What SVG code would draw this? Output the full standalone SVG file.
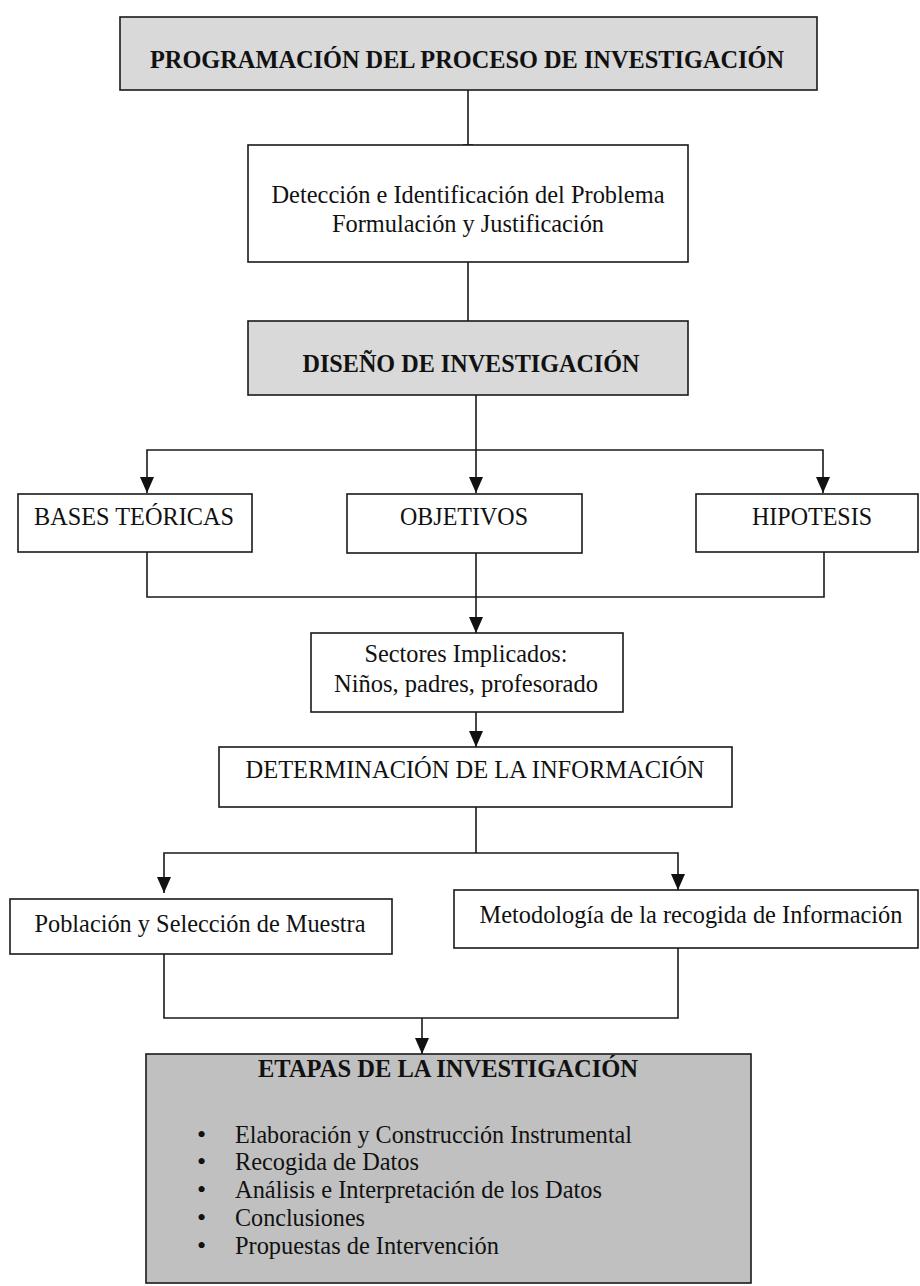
<svg xmlns="http://www.w3.org/2000/svg" width="920" height="1286" viewBox="0 0 920 1286">
<style>
.box{fill:#ffffff;stroke:#1a1a1a;stroke-width:1.6}
.g1{fill:#d9d9d9;stroke:#1a1a1a;stroke-width:1.6}
.g2{fill:#c0c0c0;stroke:#1a1a1a;stroke-width:1.6}
.t{font-family:"Liberation Serif","Times New Roman",serif;font-size:26px;fill:#111}
.b{font-weight:bold}
.c{text-anchor:middle}
.ln{fill:none;stroke:#1a1a1a;stroke-width:1.6}
</style>
<defs>
<marker id="ah" viewBox="0 0 16 14" refX="16" refY="7" markerWidth="16" markerHeight="14" markerUnits="userSpaceOnUse" orient="auto-start-reverse">
<path d="M0,0 L16,7 L0,14 Z" fill="#111"/>
</marker>
</defs>

<g id="connectors">
<line class="ln" x1="468" y1="90" x2="468" y2="145"/>
<line class="ln" x1="463" y1="145" x2="473" y2="145"/>
<line class="ln" x1="468" y1="262" x2="468" y2="321"/>
<line class="ln" x1="476" y1="395" x2="476" y2="450"/>
<polyline class="ln" points="147,493 147,450 823,450 823,493" marker-start="url(#ah)" marker-end="url(#ah)"/>
<line class="ln" x1="476" y1="450" x2="476" y2="493" marker-end="url(#ah)"/>
<polyline class="ln" points="147,552 147,597 824,597 824,550"/>
<line class="ln" x1="476" y1="553" x2="476" y2="633" marker-end="url(#ah)"/>
<line class="ln" x1="476" y1="707" x2="476" y2="747" marker-end="url(#ah)"/>
<line class="ln" x1="476" y1="807" x2="476" y2="853"/>
<polyline class="ln" points="164,893 164,853 678,853 678,890" marker-start="url(#ah)" marker-end="url(#ah)"/>
<polyline class="ln" points="164,954 164,1018 678,1018 678,946"/>
<line class="ln" x1="422" y1="1018" x2="422" y2="1054" marker-end="url(#ah)"/>
</g>

<g id="n-programacion">
<rect class="g1" x="120" y="17" width="697" height="73"/>
<text class="t b c" x="467" y="68" textLength="634" lengthAdjust="spacingAndGlyphs">PROGRAMACIÓN DEL PROCESO DE INVESTIGACIÓN</text>
</g>

<g id="n-deteccion">
<rect class="box" x="248" y="145" width="440" height="117"/>
<text class="t c" x="468" y="203" textLength="393" lengthAdjust="spacingAndGlyphs">Detección e Identificación del Problema</text>
<text class="t c" x="468" y="232" textLength="272" lengthAdjust="spacingAndGlyphs">Formulación y Justificación</text>
</g>

<g id="n-diseno">
<rect class="g1" x="248" y="321" width="440" height="74"/>
<text class="t b c" x="471" y="372" textLength="337" lengthAdjust="spacingAndGlyphs">DISEÑO DE INVESTIGACIÓN</text>
</g>

<g id="n-bases">
<rect class="box" x="18" y="494" width="234" height="58"/>
<text class="t c" x="134" y="525" textLength="200" lengthAdjust="spacingAndGlyphs">BASES TEÓRICAS</text>
</g>

<g id="n-objetivos">
<rect class="box" x="347" y="494" width="235" height="59"/>
<text class="t c" x="464" y="525" textLength="128" lengthAdjust="spacingAndGlyphs">OBJETIVOS</text>
</g>

<g id="n-hipotesis">
<rect class="box" x="696" y="494" width="222" height="58"/>
<text class="t c" x="812" y="525" textLength="120" lengthAdjust="spacingAndGlyphs">HIPOTESIS</text>
</g>

<g id="n-sectores">
<rect class="box" x="311" y="633" width="312" height="79"/>
<text class="t c" x="466" y="662" textLength="203" lengthAdjust="spacingAndGlyphs">Sectores Implicados:</text>
<text class="t c" x="466" y="692" textLength="264" lengthAdjust="spacingAndGlyphs">Niños, padres, profesorado</text>
</g>

<g id="n-determinacion">
<rect class="box" x="219" y="747" width="513" height="60"/>
<text class="t c" x="475" y="778" textLength="459" lengthAdjust="spacingAndGlyphs">DETERMINACIÓN DE LA INFORMACIÓN</text>
</g>

<g id="n-poblacion">
<rect class="box" x="10" y="899" width="382" height="55"/>
<text class="t c" x="200" y="932" textLength="331" lengthAdjust="spacingAndGlyphs">Población y Selección de Muestra</text>
</g>

<g id="n-metodologia">
<rect class="box" x="454" y="890" width="464" height="58"/>
<text class="t c" x="691" y="923" style="font-size:24.5px" textLength="423" lengthAdjust="spacingAndGlyphs">Metodología de la recogida de Información</text>
</g>

<g id="n-etapas">
<rect class="g2" x="146" y="1054" width="605" height="229"/>
<text class="t b c" x="448" y="1077" textLength="380" lengthAdjust="spacingAndGlyphs">ETAPAS DE LA INVESTIGACIÓN</text>
<text class="t" x="197" y="1143">•</text>
<text class="t" x="235" y="1143" textLength="397" lengthAdjust="spacingAndGlyphs">Elaboración y Construcción Instrumental</text>
<text class="t" x="197" y="1170">•</text>
<text class="t" x="235" y="1170" textLength="184" lengthAdjust="spacingAndGlyphs">Recogida de Datos</text>
<text class="t" x="197" y="1198">•</text>
<text class="t" x="235" y="1198" textLength="367" lengthAdjust="spacingAndGlyphs">Análisis e Interpretación de los Datos</text>
<text class="t" x="197" y="1226">•</text>
<text class="t" x="235" y="1226" textLength="130" lengthAdjust="spacingAndGlyphs">Conclusiones</text>
<text class="t" x="197" y="1254">•</text>
<text class="t" x="235" y="1254" textLength="264" lengthAdjust="spacingAndGlyphs">Propuestas de Intervención</text>
</g>
</svg>
